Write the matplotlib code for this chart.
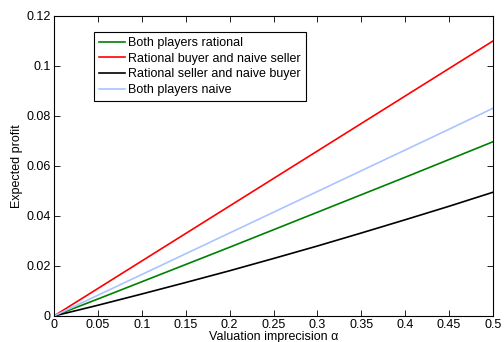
import matplotlib
matplotlib.use("Agg")
import matplotlib.pyplot as plt

plt.rcParams['font.family'] = ['Liberation Sans', 'DejaVu Sans']

alpha = [0.0, 0.05, 0.1, 0.15, 0.2, 0.25, 0.3, 0.35, 0.4, 0.45, 0.5]
both_rational = [0.0, 0.0068, 0.0137, 0.0206, 0.0275, 0.0345, 0.0415, 0.0485, 0.0555, 0.0626, 0.0697]
buyer_rational = [0.0, 0.011, 0.022, 0.033, 0.044, 0.055, 0.066, 0.077, 0.088, 0.099, 0.11]
seller_rational = [0.0, 0.0043, 0.0088, 0.0134, 0.0181, 0.0230, 0.0280, 0.0332, 0.0385, 0.0439, 0.0495]
both_naive = [0.0, 0.0083, 0.0166, 0.0249, 0.0332, 0.0415, 0.0498, 0.0581, 0.0664, 0.0747, 0.0831]

labels = ["Both players rational", "Rational buyer and naive seller",
          "Rational seller and naive buyer", "Both players naive"]
colors = ["#008000", "#ff0000", "#000000", "#aac4ff"]

xticks = [0, 0.05, 0.1, 0.15, 0.2, 0.25, 0.3, 0.35, 0.4, 0.45, 0.5]
xticklabels = ["0", "0.05", "0.1", "0.15", "0.2", "0.25", "0.3", "0.35", "0.4", "0.45", "0.5"]
yticks = [0, 0.02, 0.04, 0.06, 0.08, 0.1, 0.12]
yticklabels = ["0", "0.02", "0.04", "0.06", "0.08", "0.1", "0.12"]

fig = plt.figure(figsize=(5.04, 3.42), dpi=100)
ax = fig.add_axes([54 / 504, 1 - 316 / 342, 439 / 504, 300 / 342])

for ys, lab, c in zip([both_rational, buyer_rational, seller_rational, both_naive], labels, colors):
    ax.plot(alpha, ys, color=c, lw=1.2, label=lab)

ax.set_xlim(0, 0.5)
ax.set_ylim(0, 0.12)
ax.set_xticks(xticks)
ax.set_xticklabels(xticklabels)
ax.set_yticks(yticks)
ax.set_yticklabels(yticklabels)
ax.tick_params(direction='in', top=True, right=True, labelsize=9, length=4, width=0.6, pad=2.5)
for s in ax.spines.values():
    s.set_linewidth(0.8)

ax.set_xlabel("Valuation imprecision α", fontsize=9, labelpad=0)
ax.set_ylabel("Expected profit", fontsize=9, labelpad=2)

leg = ax.legend(loc='upper left', bbox_to_anchor=(0.091, 0.947), fontsize=9,
                frameon=True, fancybox=False, edgecolor='black', framealpha=1,
                borderaxespad=0, handlelength=2.1, handletextpad=0.22,
                labelspacing=0.3, borderpad=0.4)
leg.get_frame().set_linewidth(0.8)

fig.savefig("out.png", dpi=100)
